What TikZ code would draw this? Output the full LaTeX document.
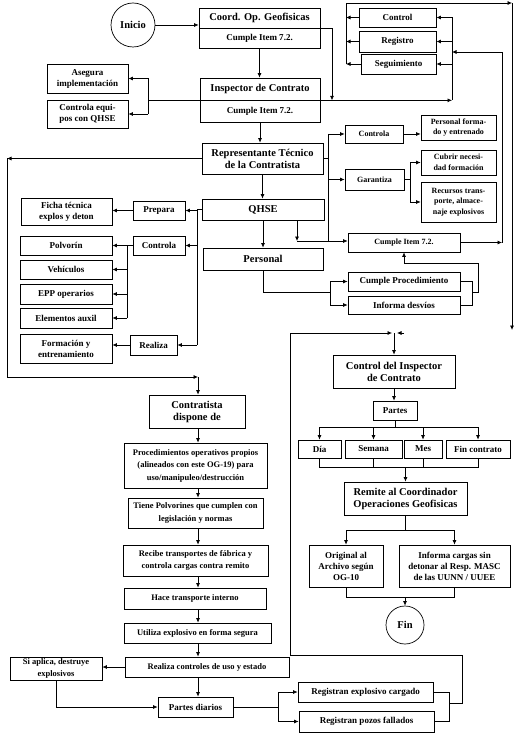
\documentclass[tikz,border=0pt]{standalone}
\usepackage{fontspec}
\setmainfont{Liberation Serif}
\usetikzlibrary{arrows.meta}

\newcommand{\fbig}{\fontsize{10.5}{12}\selectfont\bfseries}
\newcommand{\fmed}{\fontsize{9}{11}\selectfont\bfseries}
\newcommand{\fsml}{\fontsize{8}{10.5}\selectfont\bfseries}
\newcommand{\fcol}{\fontsize{8.5}{12.5}\selectfont\bfseries}

\begin{document}
\begin{tikzpicture}[x=1pt,y=-1pt,line width=0.7pt,
  box/.style={draw,inner sep=1pt,align=center,font=\fmed},
  bigbox/.style={box,font=\fbig},
  smallbox/.style={box,font=\fsml},
  colbox/.style={box,font=\fcol},
  circ/.style={draw,circle,inner sep=0pt,font=\fbig},
  flow/.style={-{Latex[length=4.5pt,width=4pt]}}]
  \useasboundingbox (0,0) rectangle (520,735);

  % buses and bends
  \coordinate (j1) at (332,0);
  \coordinate (busR) at (452,0);
  \coordinate (busL) at (346,3);
  \coordinate (busT) at (512,3);
  \coordinate (busTe) at (512,330);
  \coordinate (busA) at (148,0);
  \coordinate (busW) at (7,0);
  \coordinate (busS) at (7,377);
  \coordinate (busM) at (328,0);
  \coordinate (busG) at (410,0);
  \coordinate (q2) at (297,241);
  \coordinate (busP) at (330,292);
  \coordinate (busK) at (472,292);
  \coordinate (kt) at (478,263);
  \coordinate (busC) at (502,52);
  \coordinate (busQ) at (197,0);
  \coordinate (busV) at (127,0);
  \coordinate (ax) at (198,0);
  \coordinate (fk) at (278,707);
  \coordinate (busX) at (449,0);
  \coordinate (lr) at (462,703);
  \coordinate (lb) at (290,655);
  \coordinate (lt) at (290,333);
  \coordinate (lm) at (392,333);
  \coordinate (rm) at (404,333);
  \coordinate (rm2) at (397,333);
  \coordinate (pb) at (0,427);
  \coordinate (pc) at (0,467);
  \coordinate (pd) at (0,530);
  \coordinate (pe) at (0,597);

  % top
  \node[circ,minimum size=44pt] (inicio) at (133,25) {Inicio};
  \node[bigbox,minimum width=121pt,minimum height=20pt] (coord) at (259.5,18) {Coord. Op. Geofisicas};
  \node[box,minimum width=121pt,minimum height=20pt] (coordit) at (259.5,38) {Cumple Item 7.2.};
  \node[bigbox,minimum width=120pt,minimum height=22pt] (insp) at (260,89) {Inspector de Contrato};
  \node[box,minimum width=120pt,minimum height=22pt] (inspit) at (260,111) {Cumple Item 7.2.};
  \node[box,minimum width=77pt,minimum height=19pt] (control) at (397.5,17.5) {Control};
  \node[box,minimum width=77pt,minimum height=21pt] (registro) at (397.5,41.5) {Registro};
  \node[box,minimum width=75pt,minimum height=20pt] (seguim) at (398.5,64) {Seguimiento};
  \node[box,minimum width=81pt,minimum height=29pt] (asegura) at (87.5,78.5) {Asegura\\implementación};
  \node[box,minimum width=81pt,minimum height=28pt] (contreq) at (87.5,114) {Controla equi-\\pos con QHSE};

  % middle
  \node[bigbox,minimum width=121pt,minimum height=31pt] (repr) at (262.5,158.5) {Representante Técnico\\de la Contratista};
  \node[smallbox,minimum width=58pt,minimum height=18pt] (ctrla) at (374,134) {Controla};
  \node[smallbox,minimum width=59pt,minimum height=21pt] (garant) at (374.5,179.5) {Garantiza};
  \node[smallbox,minimum width=75pt,minimum height=25pt] (persform) at (458.5,127.5) {Personal forma-\\do y entrenado};
  \node[smallbox,minimum width=75pt,minimum height=25pt] (cubrir) at (458.5,162.5) {Cubrir necesi-\\dad formación};
  \node[smallbox,minimum width=75pt,minimum height=40pt] (recursos) at (458.5,202) {Recursos trans-\\porte, almace-\\naje explosivos};
  \node[bigbox,minimum width=122pt,minimum height=21pt] (qhse) at (263,209.5) {QHSE};
  \node[bigbox,minimum width=120pt,minimum height=22pt] (personal) at (263,259) {Personal};
  \node[smallbox,minimum width=112pt,minimum height=19pt] (cumple2) at (404,242.5) {Cumple Item 7.2.};
  \node[box,minimum width=112pt,minimum height=19pt] (cproc) at (404,281.5) {Cumple Procedimiento};
  \node[box,minimum width=112pt,minimum height=18pt] (informa) at (404,305) {Informa desvíos};

  % left
  \node[box,minimum width=52pt,minimum height=19pt] (prepara) at (159,210.5) {Prepara};
  \node[box,minimum width=91pt,minimum height=27pt] (ficha) at (66.5,211.5) {Ficha técnica\\explos y deton};
  \node[box,minimum width=52pt,minimum height=19pt] (ctrlb) at (159,245.5) {Controla};
  \node[box,minimum width=92pt,minimum height=19pt] (polvorin) at (66,245.5) {Polvorín};
  \node[box,minimum width=92pt,minimum height=19pt] (vehic) at (66,269.5) {Vehículos};
  \node[box,minimum width=92pt,minimum height=20pt] (epp) at (66,294) {EPP operarios};
  \node[box,minimum width=92pt,minimum height=20pt] (elem) at (66,318) {Elementos auxil};
  \node[box,minimum width=92pt,minimum height=29pt] (formac) at (66,348.5) {Formación y\\entrenamiento};
  \node[box,minimum width=47pt,minimum height=20pt] (realiza) at (153.5,345) {Realiza};

  % contratista column
  \node[bigbox,minimum width=96pt,minimum height=33pt] (contr) at (197,411.5) {Contratista\\dispone de};
  \node[colbox,minimum width=143pt,minimum height=45pt] (proced) at (195.5,465.5) {Procedimientos operativos propios\\(alineados con este OG-19) para\\uso/manipuleo/destrucción};
  \node[colbox,minimum width=135pt,minimum height=30pt] (tiene) at (195.5,513) {Tiene Polvorines que cumplen con\\legislación y normas};
  \node[colbox,minimum width=145pt,minimum height=31pt] (recibe) at (195.5,560.5) {Recibe transportes de fábrica y\\controla cargas contra remito};
  \node[colbox,minimum width=142pt,minimum height=21pt] (hace) at (195,598.5) {Hace transporte interno};
  \node[colbox,minimum width=147pt,minimum height=20pt] (utiliza) at (197.5,633) {Utiliza explosivo en forma segura};
  \node[colbox,minimum width=164pt,minimum height=20pt] (realizac) at (207,667) {Realiza controles de uso y estado};
  \node[colbox,minimum width=92pt,minimum height=23pt] (siaplica) at (56,668.5) {Si aplica, destruye\\explosivos};
  \node[box,minimum width=75pt,minimum height=20pt] (partes) at (195.5,707) {Partes diarios};
  \node[box,minimum width=135pt,minimum height=20pt] (reg1) at (365.5,692) {Registran explosivo cargado};
  \node[box,minimum width=135pt,minimum height=21pt] (reg2) at (366.5,721.5) {Registran pozos fallados};

  % inspector column
  \node[bigbox,minimum width=122pt,minimum height=33pt] (insctl) at (394,371.5) {Control del Inspector\\de Contrato};
  \node[box,minimum width=44pt,minimum height=19pt] (partesr) at (395,410.5) {Partes};
  \node[box,minimum width=43pt,minimum height=18pt] (dia) at (319.5,449) {Día};
  \node[box,minimum width=57pt,minimum height=18pt] (semana) at (373.5,449) {Semana};
  \node[box,minimum width=38pt,minimum height=18pt] (mes) at (423,449) {Mes};
  \node[box,minimum width=64pt,minimum height=18pt] (fincon) at (478,449) {Fin contrato};
  \node[bigbox,minimum width=123pt,minimum height=33pt] (remite) at (405.5,498.5) {Remite al Coordinador\\Operaciones Geofisicas};
  \node[box,minimum width=74pt,minimum height=42pt] (orig) at (346,566) {Original al\\Archivo según\\OG-10};
  \node[box,minimum width=111pt,minimum height=42pt] (infc) at (454.5,566) {Informa cargas sin\\detonar al Resp. MASC\\de las UUNN / UUEE};
  \node[circ,minimum size=38pt] (fin) at (405,625) {Fin};

  % connectors, top
  \draw[flow] (inicio) -- (inicio -| coord.west);
  \draw[flow] (coordit.south) -- (coordit.south |- insp.north);
  \draw[flow] (coord.south east) -| (j1 |- insp.south east);
  \draw[flow] (insp.south east) -- (busR |- insp.south east);
  \draw (busR |- control) -- (busR |- insp.south east);
  \foreach \n in {control,registro,seguim} \draw[flow] (busR |- \n) -- (\n);
  \foreach \n in {control,registro,seguim} \draw[flow] (\n) -- (busL |- \n);
  \draw (busL |- seguim) -- (busL);
  \draw[flow] (busL) -- (busT);
  \draw[flow] (busT) -- (busTe);
  \draw (insp.south west) -- (busA |- insp.south west);
  \draw (busA |- asegura) -- (busA |- contreq);
  \draw[flow] (busA |- asegura) -- (asegura);
  \draw[flow] (busA |- contreq) -- (contreq);

  % representante
  \draw[flow] (inspit.south) -- (inspit.south |- repr.north);
  \draw[flow] (repr) -- (repr -| busW);
  \draw[flow] (repr -| busW) -- (busS) -- (busS -| ax);
  \draw[flow] (busS -| ax) -- (contr.north -| ax);
  \draw (repr) -- (repr -| busM);
  \draw (busM |- ctrla) -- (busM |- q2);
  \draw[flow] (busM |- ctrla) -- (ctrla);
  \draw[flow] (busM |- garant) -- (garant);
  \draw[flow] (ctrla) -- (ctrla -| persform.west);
  \draw (garant) -- (garant -| busG);
  \draw (busG |- cubrir) -- (busG |- recursos);
  \draw[flow] (busG |- cubrir) -- (cubrir);
  \draw[flow] (busG |- recursos) -- (recursos);

  % qhse and personal
  \draw[flow] (repr.south) -- (repr.south |- qhse.north);
  \draw[flow] (qhse.south) -- (qhse.south |- personal.north);
  \draw[flow] (qhse.south -| q2) -- (q2);
  \draw[flow] (q2) -- (q2 -| cumple2.west);
  \draw (personal.south) |- (busP);
  \draw (busP |- cproc) -- (busP |- informa);
  \draw[flow] (busP |- cproc) -- (cproc);
  \draw[flow] (busP |- informa) -- (informa);
  \draw (cproc) -- (cproc -| busK) -- (busK |- informa) -- (informa);
  \draw[flow] (busK) -| (kt) -| (cumple2.south);
  \draw[flow] (cumple2) -- (cumple2 -| busC);
  \draw[flow] (cumple2 -| busC) -- (busC) -- (busR |- busC);

  % qhse left side
  \draw (qhse) -- (qhse -| busQ) -- (busQ |- realiza);
  \draw[flow] (busQ |- prepara) -- (prepara);
  \draw[flow] (busQ |- ctrlb) -- (ctrlb);
  \draw[flow] (busQ |- realiza) -- (realiza);
  \draw[flow] (prepara) -- (prepara -| ficha.east);
  \draw[flow] (ctrlb) -- (ctrlb -| polvorin.east);
  \draw (busV |- polvorin) -- (busV |- elem);
  \foreach \n in {vehic,epp,elem} \draw[flow] (busV |- \n) -- (\n);
  \draw[flow] (realiza) -- (realiza -| formac.east);

  % contratista column
  \foreach \a/\b in {contr/proced,proced/tiene,tiene/recibe,recibe/hace,hace/utiliza,utiliza/realizac,realizac/partes}
    \draw[flow] (\a.south -| ax) -- (\b.north -| ax);
  \draw[flow] (realizac) -- (realizac -| siaplica.east);
  \draw[flow] (siaplica.south) |- (partes);
  \draw (partes) -- (fk);
  \draw (fk |- reg1) -- (fk |- reg2);
  \draw[flow] (fk |- reg1) -- (reg1);
  \draw[flow] (fk |- reg2) -- (reg2);
  \draw (reg1) -- (reg1 -| busX) -- (busX |- reg2) -- (reg2);
  \draw[flow] (busX |- lr) -- (lr) |- (lb) -- (lt) -- (lm);
  \draw[flow] (rm) -- (rm2);

  % inspector column
  \draw[flow] (lt -| insctl) -- (insctl.north);
  \draw[flow] (insctl.south) -- (insctl.south |- partesr.north);
  \draw (partesr.south) -- (partesr.south |- pb);
  \draw (dia |- pb) -- (fincon |- pb);
  \foreach \n in {dia,semana,mes,fincon} \draw[flow] (\n |- pb) -- (\n.north);
  \draw (dia.south) |- (fincon.south |- pc) -- (fincon.south);
  \draw (semana.south) -- (semana.south |- pc);
  \draw (mes.south) -- (mes.south |- pc);
  \draw[flow] (remite.north |- pc) -- (remite.north);
  \draw (remite.south) -- (remite.south |- pd);
  \draw (orig |- pd) -- (infc |- pd);
  \draw[flow] (orig |- pd) -- (orig.north);
  \draw[flow] (infc |- pd) -- (infc.north);
  \draw (orig.south) |- (infc.south |- pe) -- (infc.south);
  \draw[flow] (fin |- pe) -- (fin);
\end{tikzpicture}
\end{document}
